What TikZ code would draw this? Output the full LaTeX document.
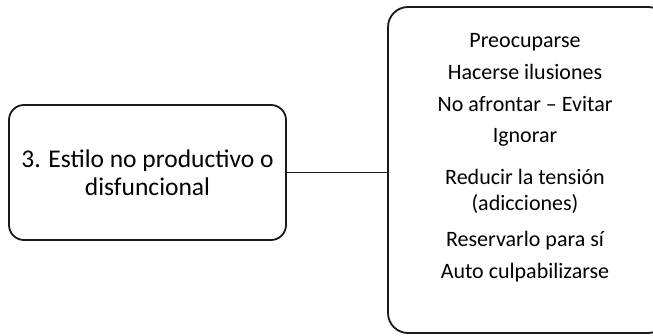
\documentclass[tikz,border=0pt]{standalone}
\usepackage{fontspec}
\setmainfont{Carlito}
\usetikzlibrary{positioning}

\begin{document}
\begin{tikzpicture}[
  x=1bp,y=1bp,
  estbox/.style={rectangle,draw=black!90,line width=1.8bp,rounded corners=15bp,minimum width=277bp,minimum height=135bp,inner sep=0pt},
  listbox/.style={rectangle,draw=black!90,line width=1.8bp,rounded corners=20bp,minimum width=280bp,minimum height=326bp,inner sep=0pt},
  itemtext/.style={align=center,font=\fontsize{22bp}{26.5bp}\selectfont,inner sep=0pt},
  link/.style={draw=black!90,line width=1.8bp}
]
  \useasboundingbox (0,0) rectangle (653,335);
  % Style
  \node[estbox,align=center,font=\fontsize{25.5bp}{28bp}\selectfont] (estilo) at (147.5,162.5) {3. Estilo no productivo o\\disfuncional};

  % List
  \node[listbox] (lista) at (528,165) {};
  \node[itemtext,anchor=north] (items) at (525,302) {Preocuparse\\[5.5bp]
    Hacerse ilusiones\\[5.5bp]
    No afrontar -- Evitar\\[5bp]
    Ignorar\\[15bp]
    Reducir la tensión\\
    (adicciones)\\[9bp]
    Reservarlo para sí\\[5.5bp]
    Auto culpabilizarse};

  % Link
  \draw[link] (estilo.east) -- (estilo.east -| lista.west);
\end{tikzpicture}
\end{document}
